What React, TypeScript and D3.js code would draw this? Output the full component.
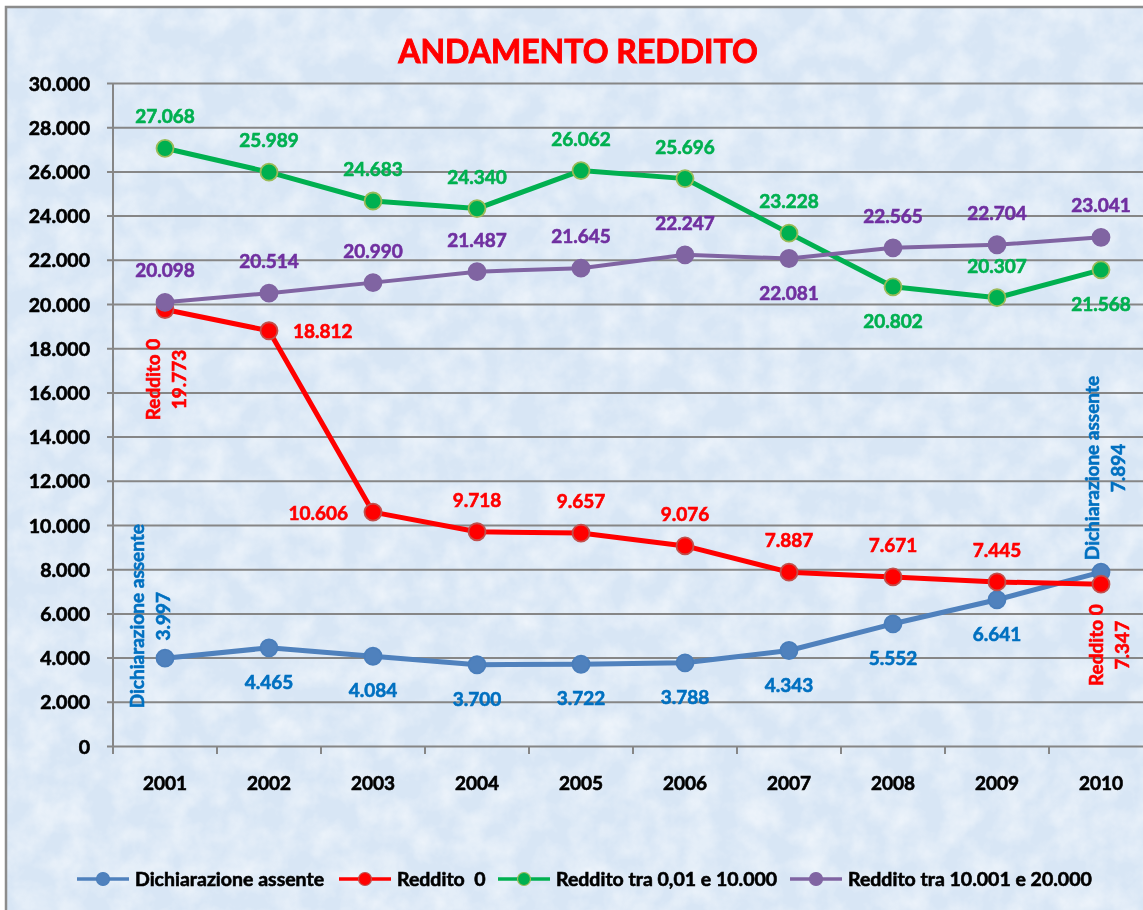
import React from 'react';
import * as d3 from 'd3';

const years = ['2001', '2002', '2003', '2004', '2005', '2006', '2007', '2008', '2009', '2010'];
const dichiarazioneAssente = [3997, 4465, 4084, 3700, 3722, 3788, 4343, 5552, 6641, 7894];
const redditoZero = [19773, 18812, 10606, 9718, 9657, 9076, 7887, 7671, 7445, 7347];
const redditoFino10000 = [27068, 25989, 24683, 24340, 26062, 25696, 23228, 20802, 20307, 21568];
const redditoFino20000 = [20098, 20514, 20990, 21487, 21645, 22247, 22081, 22565, 22704, 23041];
const yTicks = [0, 2000, 4000, 6000, 8000, 10000, 12000, 14000, 16000, 18000, 20000, 22000, 24000, 26000, 28000, 30000];

const W = 1143;
const H = 910;
const FONT = 'Lato, "Open Sans", sans-serif';

// label placement per point: a = above, b = below, r = right, l = left, v = rotated with series name
type Pos = 'a' | 'b' | 'r' | 'l' | 'v';
const series = [
  {
    name: 'Dichiarazione assente', values: dichiarazioneAssente, line: '#4F81BD', dot: '#4F81BD', dotStroke: '#4A7EBB', label: '#0070C0', width: 5,
    pos: ['v', 'b', 'b', 'b', 'b', 'b', 'b', 'b', 'b', 'v'] as Pos[],
    rot: { 0: [-21, -42], 9: [-2, -104] } as Record<number, number[]>,
  },
  {
    name: 'Reddito 0', legend: 'Reddito  0', values: redditoZero, line: '#FF0000', dot: '#FF0000', dotStroke: '#C0504D', label: '#FF0000', width: 5,
    pos: ['v', 'r', 'l', 'a', 'a', 'a', 'a', 'a', 'a', 'v'] as Pos[],
    rot: { 0: [-5, 70], 9: [2, 61] } as Record<number, number[]>,
  },
  {
    name: 'Reddito tra 0,01 e 10.000', values: redditoFino10000, line: '#00B050', dot: '#00B050', dotStroke: '#9BBB59', label: '#00B050', width: 5,
    pos: ['a', 'a', 'a', 'a', 'a', 'a', 'a', 'b', 'a', 'b'] as Pos[],
    rot: {} as Record<number, number[]>,
  },
  {
    name: 'Reddito tra 10.001 e 20.000', values: redditoFino20000, line: '#8064A2', dot: '#8064A2', dotStroke: '#8064A2', label: '#7030A0', width: 4,
    pos: ['a', 'a', 'a', 'a', 'a', 'a', 'b', 'a', 'a', 'a'] as Pos[],
    rot: {} as Record<number, number[]>,
  },
];

const legendX = [77, 339, 498, 790];

const locale = d3.formatLocale({ decimal: ',', thousands: '.', grouping: [3], currency: ['', ''] });
const fmt = locale.format(',d');

// heavier bold, closer to the original's Calibri Bold
const heavy = (c: string, w = 0.6) => ({ fill: c, stroke: c, strokeWidth: w, fontWeight: 'bold' as const });

export default function App() {
  const x = d3.scaleBand<string>().domain(years).range([113, 1153]);
  const y = d3.scaleLinear().domain([0, 30000]).range([746.5, 83.5]);
  const cx = (i: number) => (x(years[i]) as number) + x.bandwidth() / 2;
  const line = d3.line<number>().x((_, i) => cx(i)).y((d) => y(d));

  return (
    <div style={{ position: 'fixed', left: 0, top: 0 }}>
      <svg width={W} height={H} style={{ display: 'block' }} fontFamily={FONT}>
        <defs>
          <filter id="paper" x="0" y="0" width="100%" height="100%">
            <feTurbulence type="fractalNoise" baseFrequency="0.035" numOctaves={4} seed={7} result="n" />
            <feColorMatrix in="n" type="matrix" values="0 0 0 0 1  0 0 0 0 1  0 0 0 0 1  0 0 0 -1.6 1.05" />
          </filter>
        </defs>
        <rect x={0} y={0} width={W} height={H} fill="#ffffff" />
        <rect x={6} y={7} width={W} height={H} fill="#D8E6F5" />
        <rect x={6} y={7} width={W} height={H} filter="url(#paper)" opacity={0.6} />
        <path d={`M6,${H}V7H${W}`} fill="none" stroke="#8C8C8C" strokeWidth={2.5} />

        <text x={578} y={63} textAnchor="middle" fontSize={32} {...heavy('#FF0000', 0.9)}>
          ANDAMENTO REDDITO
        </text>

        {/* gridlines + y axis */}
        {yTicks.map((t) => (
          <g key={t}>
            <line x1={107} x2={W} y1={y(t)} y2={y(t)} stroke="#868686" strokeWidth={2} />
            <text x={90} y={y(t) + 7} textAnchor="end" fontSize={19.5} {...heavy('#000')}>
              {fmt(t)}
            </text>
          </g>
        ))}
        <line x1={113} x2={113} y1={y(30000)} y2={754} stroke="#868686" strokeWidth={2} />
        {years.map((yr, i) => (
          <g key={yr}>
            <line x1={(x(yr) as number) + x.bandwidth()} x2={(x(yr) as number) + x.bandwidth()} y1={y(0)} y2={754} stroke="#868686" strokeWidth={2} />
            <text x={cx(i)} y={790} textAnchor="middle" fontSize={19} {...heavy('#000')}>
              {yr}
            </text>
          </g>
        ))}

        {/* lines and markers */}
        {series.map((s) => (
          <g key={s.name}>
            <path d={line(s.values) || ''} fill="none" stroke={s.line} strokeWidth={s.width} strokeLinejoin="round" />
            {s.values.map((v, i) => (
              <circle key={i} cx={cx(i)} cy={y(v)} r={8.5} fill={s.dot} stroke={s.dotStroke} strokeWidth={1.8} />
            ))}
          </g>
        ))}

        {/* data labels */}
        {series.map((s) => (
          <g key={s.name + '-lab'} fontSize={19} {...heavy(s.label)}>
            {s.values.map((v, i) => {
              const px = cx(i);
              const py = y(v);
              const p = s.pos[i];
              if (p === 'v') {
                const [dx, dy] = s.rot[i];
                return (
                  <text key={i} transform={`translate(${px + dx},${py + dy}) rotate(-90)`} textAnchor="middle">
                    <tspan x={0} y={0}>{s.name}</tspan>
                    <tspan x={0} y={26}>{fmt(v)}</tspan>
                  </text>
                );
              }
              if (p === 'r') return <text key={i} x={px + 24} y={py + 7}>{fmt(v)}</text>;
              if (p === 'l') return <text key={i} x={px - 25} y={py + 8} textAnchor="end">{fmt(v)}</text>;
              return (
                <text key={i} x={px} y={p === 'a' ? py - 25 : py + 41} textAnchor="middle">
                  {fmt(v)}
                </text>
              );
            })}
          </g>
        ))}

        {/* legend */}
        {series.map((s, i) => (
          <g key={s.name + '-leg'} transform={`translate(${legendX[i]},879)`}>
            <line x1={0} x2={52} y1={0} y2={0} stroke={s.line} strokeWidth={3.5} />
            <circle cx={26} cy={0} r={6.5} fill={s.dot} stroke={s.dotStroke} strokeWidth={1.2} />
            <text x={58} y={7} fontSize={19.5} {...heavy('#000')} style={{ whiteSpace: 'pre' }}>
              {s.legend || s.name}
            </text>
          </g>
        ))}
      </svg>
    </div>
  );
}
